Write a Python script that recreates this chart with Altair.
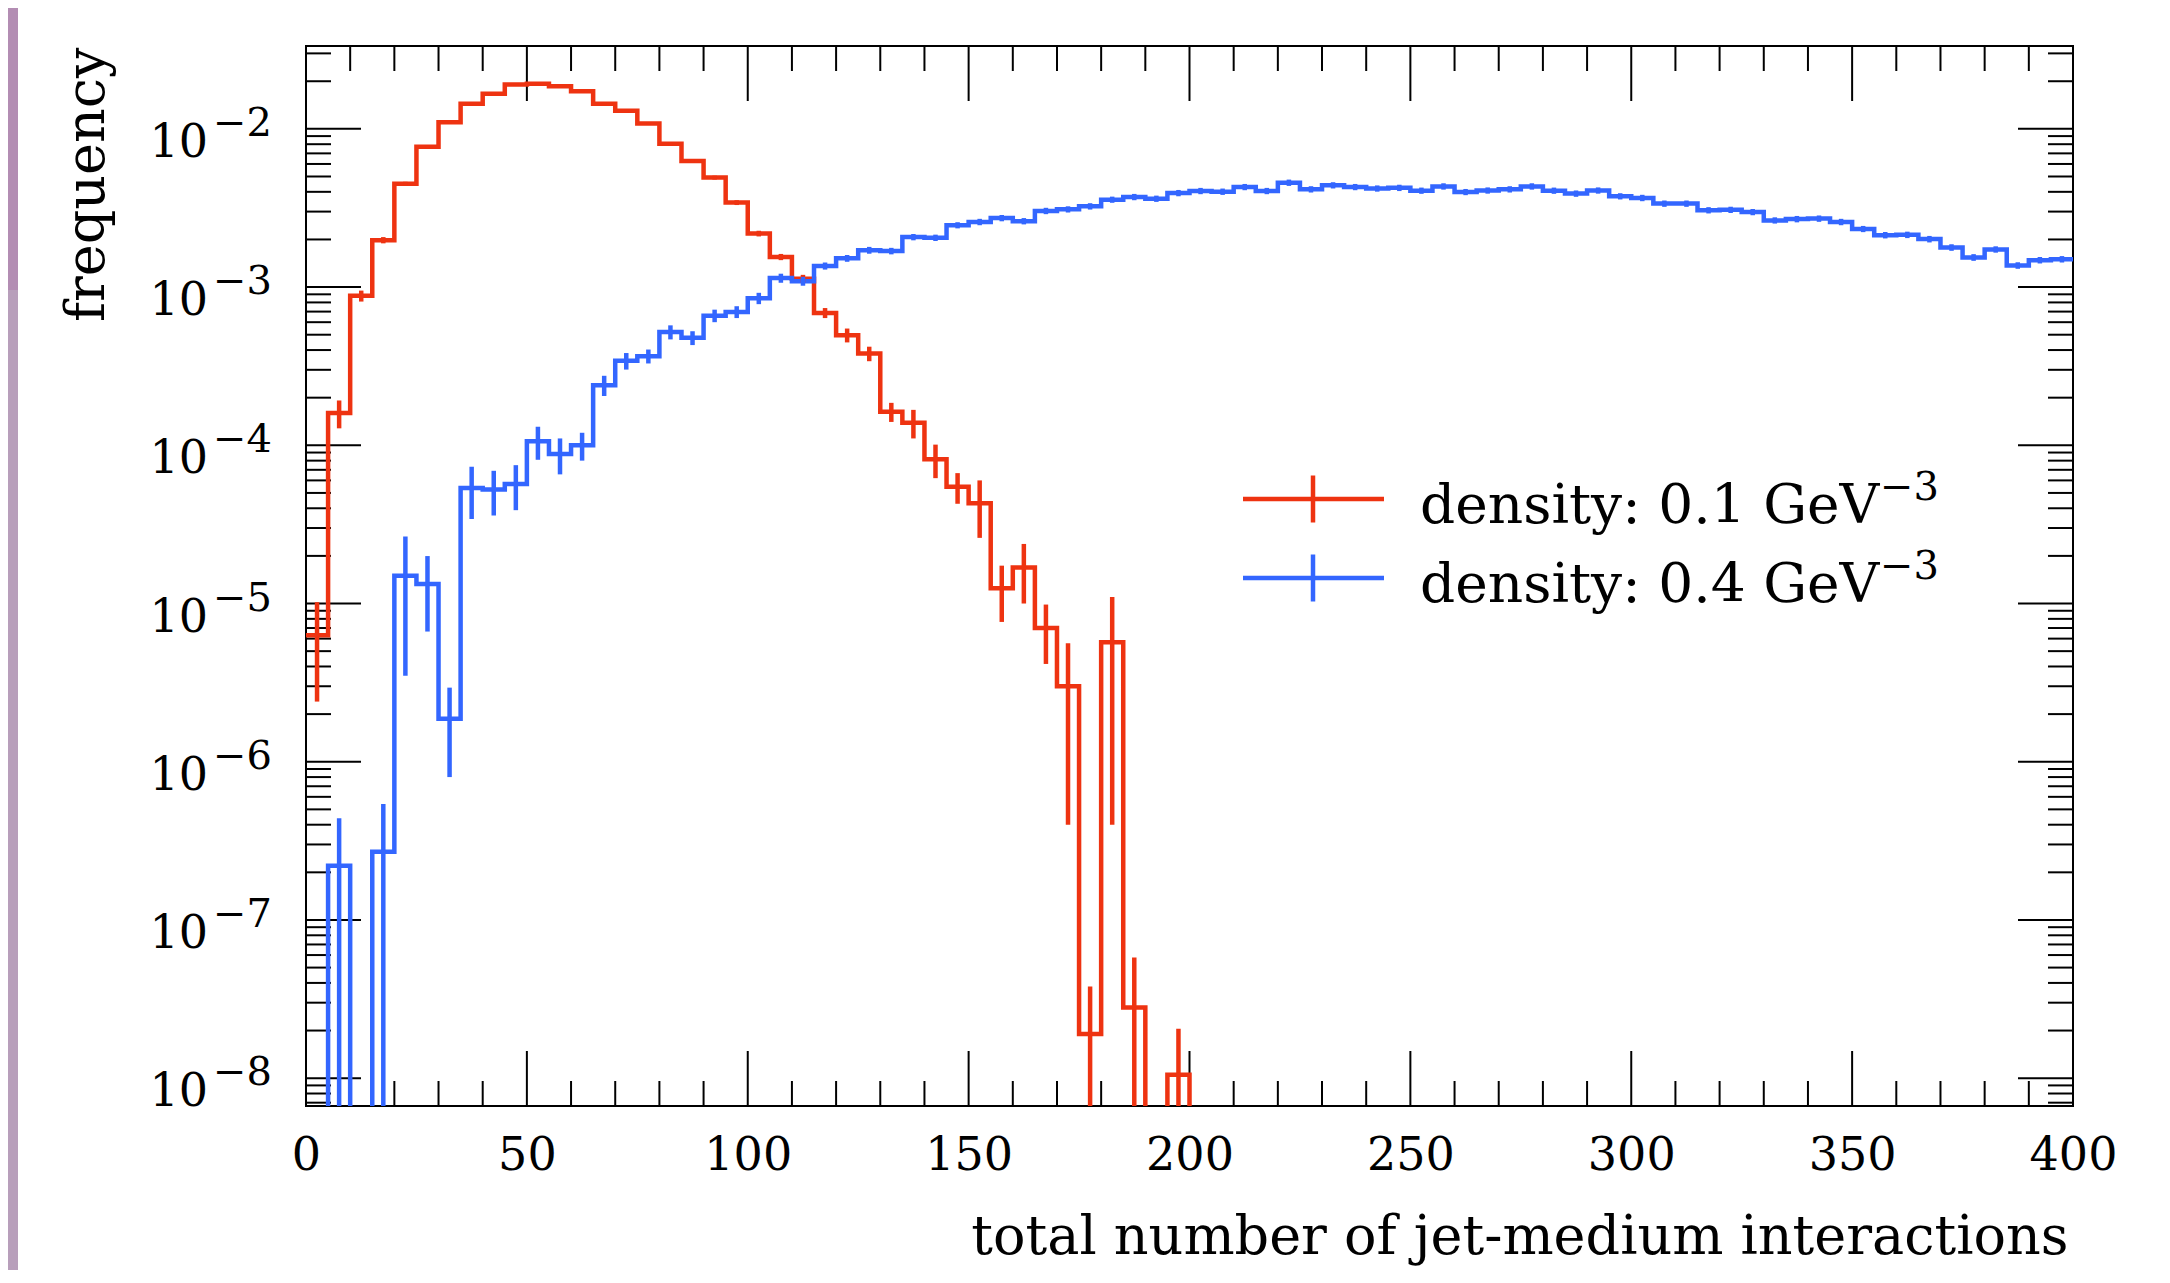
import altair as alt
import pandas as pd

# ---------------- data ----------------
BIN_W = 5
bin_low = list(range(0, 400, BIN_W))          # 80 bins, 0..400

series_names = ["density 0.1", "density 0.4"]
legend_labels = ["density: 0.1 GeV", "density: 0.4 GeV"]
legend_exp = ["\u22123", "\u22123"]

red_vals = [6.3e-6, 1.60e-4, 8.8e-4, 1.98e-3, 4.5e-3, 7.7e-3, 1.10e-2, 1.44e-2, 1.67e-2, 1.91e-2,
            1.93e-2, 1.86e-2, 1.73e-2, 1.44e-2, 1.30e-2, 1.08e-2, 8.06e-3, 6.27e-3, 4.92e-3, 3.42e-3,
            2.18e-3, 1.55e-3, 1.13e-3, 6.87e-4, 4.97e-4, 3.8e-4, 1.63e-4, 1.39e-4, 8.15e-5, 5.47e-5,
            4.3e-5, 1.25e-5, 1.69e-5, 7.0e-6, 3.0e-6, 1.9e-8, 5.7e-6, 2.8e-8, 0, 1.05e-8,
            0, 0, 0, 0, 0, 0, 0, 0, 0, 0,
            0, 0, 0, 0, 0, 0, 0, 0, 0, 0,
            0, 0, 0, 0, 0, 0, 0, 0, 0, 0,
            0, 0, 0, 0, 0, 0, 0, 0, 0, 0]
red_errs = [3.9e-6, 3.2e-5, 7.0e-5, 9.0e-5, 1.3e-4, 1.7e-4, 2.1e-4, 2.4e-4, 2.6e-4, 2.8e-4,
            2.8e-4, 2.7e-4, 2.6e-4, 2.4e-4, 2.3e-4, 2.1e-4, 1.8e-4, 1.6e-4, 1.4e-4, 1.2e-4,
            9.0e-5, 7.0e-5, 6.5e-5, 5.0e-5, 5.0e-5, 4.0e-5, 2.25e-5, 2.85e-5, 1.95e-5, 1.2e-5,
            1.7e-5, 4.85e-6, 6.9e-6, 2.85e-6, 2.6e-6, 1.9e-8, 5.3e-6, 3.0e-8, 0, 1.0e-8,
            0, 0, 0, 0, 0, 0, 0, 0, 0, 0,
            0, 0, 0, 0, 0, 0, 0, 0, 0, 0,
            0, 0, 0, 0, 0, 0, 0, 0, 0, 0,
            0, 0, 0, 0, 0, 0, 0, 0, 0, 0]

blue_vals = [0, 2.2e-7, 0, 2.7e-7, 1.5e-5, 1.33e-5, 1.87e-6, 5.37e-5, 5.25e-5, 5.69e-5,
             1.06e-4, 8.8e-5, 1.0e-4, 2.4e-4, 3.42e-4, 3.66e-4, 5.2e-4, 4.78e-4, 6.6e-4, 6.97e-4,
             8.5e-4, 1.14e-3, 1.09e-3, 1.36e-3, 1.52e-3, 1.71e-3, 1.69e-3, 2.07e-3, 2.05e-3, 2.46e-3,
             2.58e-3, 2.73e-3, 2.61e-3, 3.03e-3, 3.10e-3, 3.24e-3, 3.57e-3, 3.71e-3, 3.62e-3, 3.93e-3,
             4.05e-3, 4.01e-3, 4.29e-3, 4.05e-3, 4.57e-3, 4.15e-3, 4.40e-3, 4.29e-3, 4.20e-3, 4.24e-3,
             4.07e-3, 4.33e-3, 3.99e-3, 4.08e-3, 4.15e-3, 4.33e-3, 4.07e-3, 3.90e-3, 4.08e-3, 3.75e-3,
             3.66e-3, 3.37e-3, 3.37e-3, 3.06e-3, 3.08e-3, 2.98e-3, 2.64e-3, 2.69e-3, 2.71e-3, 2.58e-3,
             2.33e-3, 2.13e-3, 2.14e-3, 2.01e-3, 1.78e-3, 1.54e-3, 1.73e-3, 1.37e-3, 1.48e-3, 1.50e-3]
blue_errs = [0, 2.2e-7, 0, 2.7e-7, 1.15e-5, 6.65e-6, 1.07e-6, 1.95e-5, 1.65e-5, 1.8e-5,
             2.5e-5, 2.25e-5, 2.0e-5, 3.5e-5, 4.1e-5, 3.7e-5, 5.3e-5, 4.8e-5, 6.0e-5, 6.0e-5,
             7.0e-5, 7.5e-5, 7.0e-5, 7.0e-5, 7.5e-5, 8.5e-5, 8.0e-5, 9.5e-5, 9.5e-5, 1.1e-4,
             1.2e-4, 1.25e-4, 1.2e-4, 1.4e-4, 1.4e-4, 1.5e-4, 1.6e-4, 1.7e-4, 1.65e-4, 1.8e-4,
             1.85e-4, 1.85e-4, 1.95e-4, 1.85e-4, 2.1e-4, 1.9e-4, 2.0e-4, 1.95e-4, 1.9e-4, 1.95e-4,
             1.85e-4, 2.0e-4, 1.8e-4, 1.85e-4, 1.9e-4, 2.0e-4, 1.85e-4, 1.8e-4, 1.85e-4, 1.7e-4,
             1.7e-4, 1.55e-4, 1.55e-4, 1.4e-4, 1.4e-4, 1.35e-4, 1.2e-4, 1.25e-4, 1.25e-4, 1.2e-4,
             1.05e-4, 1.0e-4, 1.0e-4, 9.5e-5, 8.5e-5, 7.5e-5, 8.0e-5, 6.5e-5, 7.0e-5, 7.0e-5]

x_major = [0, 50, 100, 150, 200, 250, 300, 350, 400]
x_minor = [v for v in range(10, 400, 10) if v % 50 != 0]
y_major = [1e-2, 1e-3, 1e-4, 1e-5, 1e-6, 1e-7, 1e-8]
y_base_label = ["10"] * 7
y_exp_label = ["\u22122", "\u22123", "\u22124", "\u22125", "\u22126", "\u22127", "\u22128"]
Y_DOMAIN = [6.67e-9, 0.0334]
y_minor = [k * 10.0 ** e for e in range(-9, -1) for k in range(2, 10)
           if Y_DOMAIN[0] <= k * 10.0 ** e <= Y_DOMAIN[1]]

# ---------------- styling ----------------
FONT = "DejaVu Serif"
RED = "#ee3311"
BLUE = "#3366ff"
LW = 4.5
W, H = 1767, 1060
FLOOR = 1e-12   # stands for "below the plotted range" on the log axis

# ---------------- tables built from the arrays ----------------
hist_rows, err_rows = [], []
for name, vals, errs in zip(series_names, [red_vals, blue_vals], [red_errs, blue_errs]):
    for i, v in enumerate(vals):
        hist_rows.append({"series": name, "x": bin_low[i], "y": v if v > 0 else FLOOR})
        if v > 0:
            lo = v - errs[i]
            err_rows.append({"series": name, "x": bin_low[i] + BIN_W / 2,
                             "y": lo if lo > 0 else FLOOR, "hi": v + errs[i]})
    hist_rows.append({"series": name, "x": bin_low[-1] + BIN_W,
                      "y": vals[-1] if vals[-1] > 0 else FLOOR})
hist_df = pd.DataFrame(hist_rows)
err_df = pd.DataFrame(err_rows)

xs = alt.Scale(domain=[0, 400], nice=False, zero=False)
ys = alt.Scale(type="log", domain=Y_DOMAIN, nice=False)
cs = alt.Scale(domain=series_names, range=[RED, BLUE])

x_axis = alt.Axis(values=x_major, format="d", ticks=False, tickSize=0, domain=False, grid=False,
                  labelFont=FONT, labelFontSize=46, labelColor="black", labelPadding=49,
                  labelBaseline="middle", labelFlush=False, labelOverlap=False, labelBound=False,
                  title="total number of jet-medium interactions", titleFont=FONT, titleFontSize=54,
                  titleFontWeight="normal", titleColor="black", titleAlign="right",
                  titleBaseline="alphabetic", titleX=W - 5, titleY=147, zindex=1)
y_axis = alt.Axis(labels=False, ticks=False, domain=False, grid=False,
                  title="frequency", titleFont=FONT, titleFontSize=54, titleFontWeight="normal",
                  titleColor="black", titleAngle=270, titleAlign="right", titleBaseline="alphabetic",
                  titleX=-203, titleY=1, zindex=1)

X = lambda f: alt.X(f, scale=xs, axis=x_axis, title="total number of jet-medium interactions")
Y = lambda f: alt.Y(f, scale=ys, axis=y_axis, title="frequency")

dummy = pd.DataFrame({"k": [0]})

# page-border strip on the left (slide background)
strip = alt.Chart(dummy).mark_rect(color="#b89fbb").encode(
    x=alt.value(-298), x2=alt.value(-288), y=alt.value(-38), y2=alt.value(1230))
strip_top = alt.Chart(dummy).mark_rect(color="#b38db3").encode(
    x=alt.value(-298), x2=alt.value(-288), y=alt.value(-38), y2=alt.value(244))

# inward ticks on all four sides
xmaj = pd.DataFrame({"x": x_major})
xmin = pd.DataFrame({"x": x_minor})
ymaj = pd.DataFrame({"y": y_major, "base": y_base_label, "exp": y_exp_label})
ymin = pd.DataFrame({"y": y_minor})

def xticks(df, length):
    b = alt.Chart(df).mark_rule(color="black", strokeWidth=2).encode(
        x=X("x:Q"), y=alt.value(H), y2=alt.value(H - length))
    t = alt.Chart(df).mark_rule(color="black", strokeWidth=2).encode(
        x=X("x:Q"), y=alt.value(0), y2=alt.value(length))
    return [b, t]

def yticks(df, length):
    l = alt.Chart(df).mark_rule(color="black", strokeWidth=2).encode(
        y=Y("y:Q"), x=alt.value(0), x2=alt.value(length))
    r = alt.Chart(df).mark_rule(color="black", strokeWidth=2).encode(
        y=Y("y:Q"), x=alt.value(W), x2=alt.value(W - length))
    return [l, r]

tick_layers = xticks(xmaj, 55) + xticks(xmin, 25) + yticks(ymaj, 55) + yticks(ymin, 25)

# y tick labels 10^-n
ylab_base = alt.Chart(ymaj).mark_text(align="right", baseline="middle", dy=14, font=FONT,
                                      fontSize=46, color="black").encode(
    y=Y("y:Q"), x=alt.value(-98), text="base:N")
ylab_exp = alt.Chart(ymaj).mark_text(align="right", baseline="middle", dy=-5, font=FONT,
                                     fontSize=40, color="black").encode(
    y=Y("y:Q"), x=alt.value(-34), text="exp:N")

# histograms
hist = alt.Chart(hist_df).mark_line(interpolate="step-after", clip=True, strokeWidth=LW).encode(
    x=X("x:Q"), y=Y("y:Q"),
    color=alt.Color("series:N", scale=cs, legend=None))
errs = alt.Chart(err_df).mark_rule(clip=True, strokeWidth=LW).encode(
    x=X("x:Q"), y=Y("y:Q"), y2="hi:Q",
    color=alt.Color("series:N", scale=cs, legend=None))

# legend
legend_layers = []
for i, col in enumerate([RED, BLUE]):
    py = 453 + 79 * i
    one = pd.DataFrame({"label": [legend_labels[i]], "exp": [legend_exp[i]]})
    base = alt.Chart(one)
    legend_layers += [
        base.mark_rule(color=col, strokeWidth=LW).encode(
            x=alt.value(937), x2=alt.value(1078), y=alt.value(py)),
        base.mark_rule(color=col, strokeWidth=LW).encode(
            x=alt.value(1007), y=alt.value(py - 23.5), y2=alt.value(py + 23.5)),
        base.mark_text(align="left", baseline="alphabetic", font=FONT, fontSize=55,
                       color="black").encode(x=alt.value(1114), y=alt.value(py + 24), text="label:N"),
        base.mark_text(align="left", baseline="alphabetic", font=FONT, fontSize=40,
                       color="black").encode(x=alt.value(1574), y=alt.value(py + 1), text="exp:N"),
    ]

chart = alt.layer(strip, strip_top, *tick_layers, hist, errs, ylab_base, ylab_exp,
                  *legend_layers).properties(
    width=W, height=H,
    autosize=alt.AutoSizeParams(type="none"),
    padding={"left": 298, "top": 38, "right": 80, "bottom": 164},
    background="white",
).configure_view(stroke="black", strokeWidth=2)

chart.save("out.html", embed_options={"renderer": "svg", "actions": False})
